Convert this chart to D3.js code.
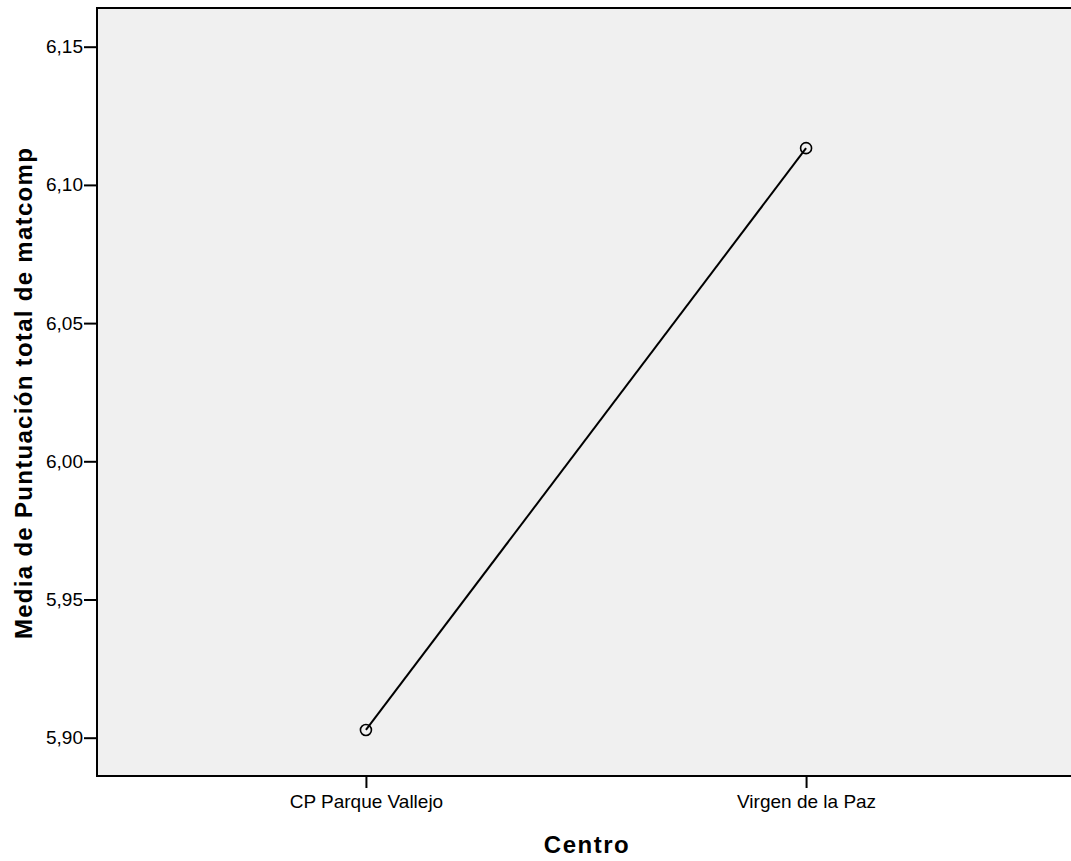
<!DOCTYPE html>
<html><head><meta charset="utf-8">
<script src="https://cdn.jsdelivr.net/npm/d3@7"></script>
<style>body{margin:0;background:#fff}svg{display:block}</style>
</head><body>
<svg id="c" width="1071" height="861"></svg>
<script>
const categories = ["CP Parque Vallejo", "Virgen de la Paz"];
const means = [5.9028, 6.1133];
const yTicks = [5.90, 5.95, 6.00, 6.05, 6.10, 6.15];

const svg = d3.select("#c");
const L = 97, T = 8, R = 1075, B = 776;
const x = d3.scalePoint().domain(categories).range([L, R]).padding(0.611);
const y = d3.scaleLinear().domain([5.90, 6.15]).range([737.7, 46.7]);
const font = "'Liberation Sans', Arial, sans-serif";

svg.append("rect").attr("x", L).attr("y", T).attr("width", R - L).attr("height", B - T)
  .attr("fill", "#f0f0f0").attr("stroke", "#000").attr("stroke-width", 2);

const fmt = d => d.toFixed(2).replace(".", ",");
const ya = svg.append("g").attr("transform", `translate(${L},0)`)
  .call(d3.axisLeft(y).tickValues(yTicks).tickFormat(fmt).tickSize(13).tickPadding(1));
ya.select(".domain").remove();
ya.selectAll("line").attr("stroke", "#000").attr("stroke-width", 2);
ya.selectAll("text").attr("font-family", font).attr("font-size", 19).attr("fill", "#000");

const xa = svg.append("g").attr("transform", `translate(0,${B})`)
  .call(d3.axisBottom(x).tickSize(12).tickPadding(7));
xa.select(".domain").remove();
xa.selectAll("line").attr("stroke", "#000").attr("stroke-width", 2);
xa.selectAll("text").attr("font-family", font).attr("font-size", 19).attr("fill", "#000");

const data = categories.map((c, i) => ({c, v: means[i]}));
svg.append("path").datum(data)
  .attr("d", d3.line().x(d => x(d.c)).y(d => y(d.v)))
  .attr("fill", "none").attr("stroke", "#000").attr("stroke-width", 2);
svg.selectAll("circle.pt").data(data).join("circle").attr("class", "pt")
  .attr("cx", d => x(d.c)).attr("cy", d => y(d.v)).attr("r", 5.5)
  .attr("fill", "none").attr("stroke", "#000").attr("stroke-width", 1.6);

svg.append("text").attr("x", 587).attr("y", 853).attr("text-anchor", "middle")
  .attr("font-family", font).attr("font-weight", "bold").attr("font-size", 24)
  .attr("letter-spacing", 1.5).text("Centro");
svg.append("text").attr("transform", "translate(32,393) rotate(-90)").attr("text-anchor", "middle")
  .attr("font-family", font).attr("font-weight", "bold").attr("font-size", 24)
  .attr("letter-spacing", 1.3).text("Media de Puntuación total de matcomp");
</script>
</body></html>
